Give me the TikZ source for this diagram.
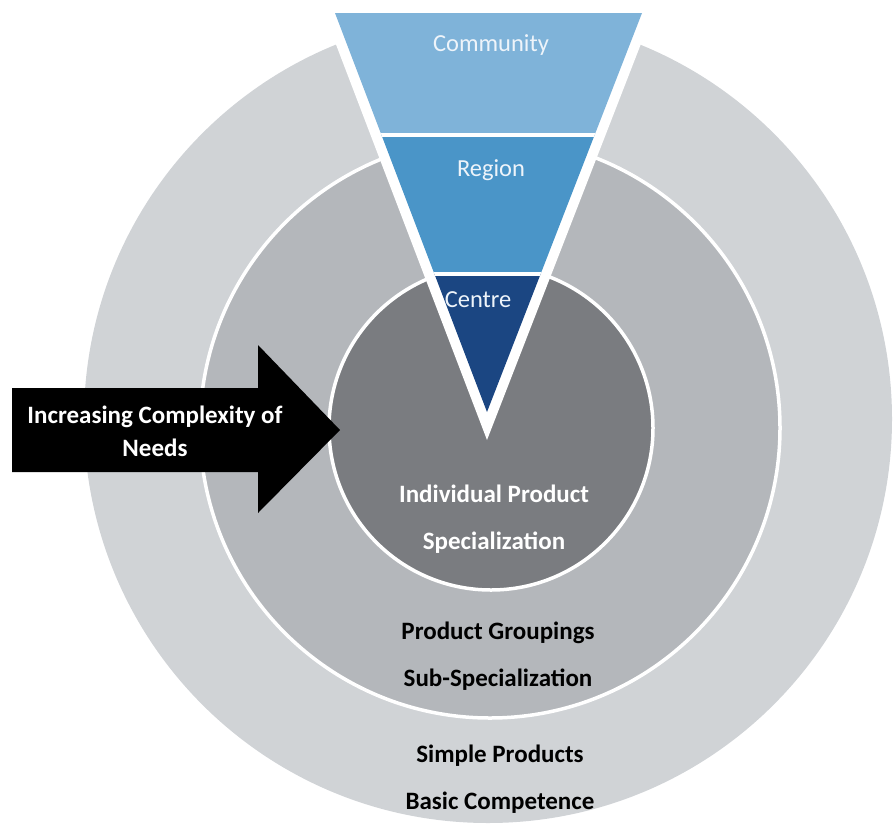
\documentclass[tikz,border=0pt]{standalone}
\usepackage{fontspec}
\setmainfont{Carlito}
\usepackage{tikz}
\usetikzlibrary{positioning}

\definecolor{outerGray}{HTML}{D0D3D6}
\definecolor{midGray}{HTML}{B4B7BB}
\definecolor{innerGray}{HTML}{7A7C80}
\definecolor{commBlue}{HTML}{7FB3D9}
\definecolor{regBlue}{HTML}{4A95C8}
\definecolor{centBlue}{HTML}{1B4682}
\definecolor{bandText}{HTML}{EEF4FA}

\begin{document}
\begin{tikzpicture}[x=1pt,y=-1pt]
		\tikzstyle{Ring}	= [draw=white, line width=3.5pt]
		\tikzstyle{Band}	= [text=bandText, font=\fontsize{24.5}{28}\selectfont]
		\tikzstyle{Label}	= [align=center, font=\bfseries\fontsize{25}{47}\selectfont]
		\tikzstyle{Inner}	= [Label, text=white]
		\tikzstyle{Sep}		= [white, line width=4pt]

		\useasboundingbox (0,0) rectangle (893,827);

		% rings
		\fill [outerGray] (488,419) circle (404);
		\draw [fill=midGray, Ring] (490,428) circle (290);
		\draw [fill=innerGray, Ring] (491,428) circle (162);

		% funnel
		\coordinate (wl) at (319,0);
		\coordinate (wr) at (658,0);
		\coordinate (wtip) at (487,440);
		\coordinate (tl) at (335,13);
		\coordinate (tr) at (642,13);
		\coordinate (tip) at (487,412);

		\fill [white] (wl) -- (wr) -- (wtip) -- cycle;
		\begin{scope}
			\clip (tl) -- (tr) -- (tip) -- cycle;
			\fill [commBlue] (300,0) rectangle (700,135);
			\fill [regBlue] (300,135) rectangle (700,274);
			\fill [centBlue] (300,274) rectangle (700,420);
			\draw [Sep] (300,135) -- (700,135);
			\draw [Sep] (300,274) -- (700,274);
		\end{scope}

		\node (community) at (491,45) [Band] {Community};
		\node (region) at (491,170) [Band] {Region};
		\node (centre) at (478,300) [Band] {Centre};

		% arrow
		\fill [black] (12,388) -- (258,388) -- (258,345) -- (340,430) -- (258,513) -- (258,472) -- (12,472) -- cycle;
		\node (needs) at (155,431) [Inner, font=\bfseries\fontsize{25}{33}\selectfont] {Increasing Complexity of\\Needs};

		% ring labels
		\node (individual) at (494,519) [Inner] {Individual Product\\Specialization};
		\node (groupings) at (498,656) [Label] {Product Groupings\\Sub-Specialization};
		\node (simple) at (500,779) [Label] {Simple Products\\Basic Competence};
	\end{tikzpicture}
\end{document}
